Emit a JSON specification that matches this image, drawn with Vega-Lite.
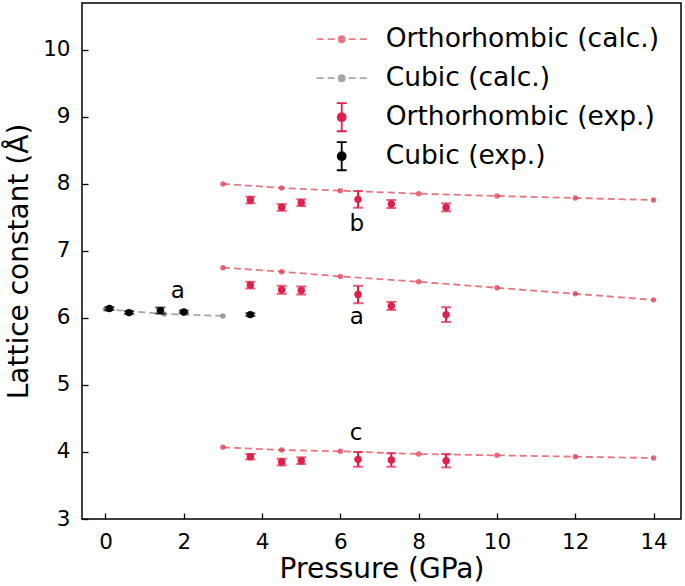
{
  "$schema": "https://vega.github.io/schema/vega-lite/v6.json",
  "width": 599,
  "height": 516,
  "autosize": "none",
  "padding": {"left": 82, "top": 3, "right": 4, "bottom": 67},
  "background": "white",
  "config": {
    "font": "DejaVu Sans",
    "view": {"stroke": "black", "strokeWidth": 1.5},
    "axis": {
      "domain": false,
      "grid": false,
      "tickColor": "black",
      "tickWidth": 1.3,
      "tickSize": -6,
      "labelFontSize": 21.5,
      "labelColor": "black",
      "labelFont": "DejaVu Sans",
      "titleFont": "DejaVu Sans",
      "titleFontSize": 28,
      "titleFontWeight": "normal",
      "titleColor": "black"
    },
    "legend": {
      "orient": "none",
      "legendX": 239.7,
      "legendY": 16.2,
      "padding": 0,
      "rowPadding": 0,
      "symbolSize": 1444,
      "labelOffset": 24,
      "labelFontSize": 26.5,
      "labelFont": "DejaVu Sans",
      "labelColor": "black",
      "labelLimit": 400,
      "symbolStrokeWidth": 1.8,
      "symbolOpacity": 1
    }
  },
  "datasets": {
    "pts": [
      {"series": "Orthorhombic (calc.)", "kind": "calc", "lat": "b", "p": 3, "v": 8.00},
      {"series": "Orthorhombic (calc.)", "kind": "calc", "lat": "b", "p": 4.5, "v": 7.94},
      {"series": "Orthorhombic (calc.)", "kind": "calc", "lat": "b", "p": 6, "v": 7.90},
      {"series": "Orthorhombic (calc.)", "kind": "calc", "lat": "b", "p": 8, "v": 7.855},
      {"series": "Orthorhombic (calc.)", "kind": "calc", "lat": "b", "p": 10, "v": 7.82},
      {"series": "Orthorhombic (calc.)", "kind": "calc", "lat": "b", "p": 12, "v": 7.79},
      {"series": "Orthorhombic (calc.)", "kind": "calc", "lat": "b", "p": 14, "v": 7.76},
      {"series": "Orthorhombic (calc.)", "kind": "calc", "lat": "a", "p": 3, "v": 6.75},
      {"series": "Orthorhombic (calc.)", "kind": "calc", "lat": "a", "p": 4.5, "v": 6.69},
      {"series": "Orthorhombic (calc.)", "kind": "calc", "lat": "a", "p": 6, "v": 6.62},
      {"series": "Orthorhombic (calc.)", "kind": "calc", "lat": "a", "p": 8, "v": 6.54},
      {"series": "Orthorhombic (calc.)", "kind": "calc", "lat": "a", "p": 10, "v": 6.45},
      {"series": "Orthorhombic (calc.)", "kind": "calc", "lat": "a", "p": 12, "v": 6.36},
      {"series": "Orthorhombic (calc.)", "kind": "calc", "lat": "a", "p": 14, "v": 6.27},
      {"series": "Orthorhombic (calc.)", "kind": "calc", "lat": "c", "p": 3, "v": 4.07},
      {"series": "Orthorhombic (calc.)", "kind": "calc", "lat": "c", "p": 4.5, "v": 4.03},
      {"series": "Orthorhombic (calc.)", "kind": "calc", "lat": "c", "p": 6, "v": 4.01},
      {"series": "Orthorhombic (calc.)", "kind": "calc", "lat": "c", "p": 8, "v": 3.97},
      {"series": "Orthorhombic (calc.)", "kind": "calc", "lat": "c", "p": 10, "v": 3.95},
      {"series": "Orthorhombic (calc.)", "kind": "calc", "lat": "c", "p": 12, "v": 3.93},
      {"series": "Orthorhombic (calc.)", "kind": "calc", "lat": "c", "p": 14, "v": 3.91},
      {"series": "Cubic (calc.)", "kind": "calc", "lat": "a", "p": 0, "v": 6.13},
      {"series": "Cubic (calc.)", "kind": "calc", "lat": "a", "p": 1.5, "v": 6.06},
      {"series": "Cubic (calc.)", "kind": "calc", "lat": "a", "p": 3, "v": 6.03},
      {"series": "Orthorhombic (exp.)", "kind": "exp", "lat": "b", "p": 3.7, "v": 7.76, "err": 0.05},
      {"series": "Orthorhombic (exp.)", "kind": "exp", "lat": "b", "p": 4.5, "v": 7.65, "err": 0.05},
      {"series": "Orthorhombic (exp.)", "kind": "exp", "lat": "b", "p": 5.0, "v": 7.72, "err": 0.05},
      {"series": "Orthorhombic (exp.)", "kind": "exp", "lat": "b", "p": 6.45, "v": 7.77, "err": 0.125},
      {"series": "Orthorhombic (exp.)", "kind": "exp", "lat": "b", "p": 7.3, "v": 7.70, "err": 0.06},
      {"series": "Orthorhombic (exp.)", "kind": "exp", "lat": "b", "p": 8.7, "v": 7.65, "err": 0.06},
      {"series": "Orthorhombic (exp.)", "kind": "exp", "lat": "a", "p": 3.7, "v": 6.49, "err": 0.05},
      {"series": "Orthorhombic (exp.)", "kind": "exp", "lat": "a", "p": 4.5, "v": 6.42, "err": 0.06},
      {"series": "Orthorhombic (exp.)", "kind": "exp", "lat": "a", "p": 5.0, "v": 6.41, "err": 0.06},
      {"series": "Orthorhombic (exp.)", "kind": "exp", "lat": "a", "p": 6.45, "v": 6.35, "err": 0.13},
      {"series": "Orthorhombic (exp.)", "kind": "exp", "lat": "a", "p": 7.3, "v": 6.18, "err": 0.06},
      {"series": "Orthorhombic (exp.)", "kind": "exp", "lat": "a", "p": 8.7, "v": 6.05, "err": 0.11},
      {"series": "Orthorhombic (exp.)", "kind": "exp", "lat": "c", "p": 3.7, "v": 3.93, "err": 0.04},
      {"series": "Orthorhombic (exp.)", "kind": "exp", "lat": "c", "p": 4.5, "v": 3.85, "err": 0.05},
      {"series": "Orthorhombic (exp.)", "kind": "exp", "lat": "c", "p": 5.0, "v": 3.87, "err": 0.05},
      {"series": "Orthorhombic (exp.)", "kind": "exp", "lat": "c", "p": 6.45, "v": 3.89, "err": 0.11},
      {"series": "Orthorhombic (exp.)", "kind": "exp", "lat": "c", "p": 7.3, "v": 3.88, "err": 0.1},
      {"series": "Orthorhombic (exp.)", "kind": "exp", "lat": "c", "p": 8.7, "v": 3.87, "err": 0.1},
      {"series": "Cubic (exp.)", "kind": "exp", "lat": "a", "p": 0.1, "v": 6.14, "err": 0.02},
      {"series": "Cubic (exp.)", "kind": "exp", "lat": "a", "p": 0.6, "v": 6.08, "err": 0.02},
      {"series": "Cubic (exp.)", "kind": "exp", "lat": "a", "p": 1.4, "v": 6.11, "err": 0.045},
      {"series": "Cubic (exp.)", "kind": "exp", "lat": "a", "p": 2.0, "v": 6.09, "err": 0.02},
      {"series": "Cubic (exp.)", "kind": "exp", "lat": "a", "p": 3.7, "v": 6.05, "err": 0.02}
    ],
    "labels": [
      {"p": 1.85, "v": 6.40, "text": "a"},
      {"p": 6.42, "v": 7.40, "text": "b"},
      {"p": 6.42, "v": 6.02, "text": "a"},
      {"p": 6.40, "v": 4.29, "text": "c"}
    ]
  },
  "encoding": {
    "x": {
      "field": "p", "type": "quantitative",
      "scale": {"domain": [-0.6, 14.7], "nice": false, "zero": false},
      "axis": {"values": [0, 2, 4, 6, 8, 10, 12, 14], "format": "d", "title": "Pressure (GPa)", "labelPadding": 18, "titlePadding": 3}
    },
    "y": {
      "field": "v", "type": "quantitative",
      "scale": {"domain": [3, 10.7], "nice": false, "zero": false},
      "axis": {"values": [3, 4, 5, 6, 7, 8, 9, 10], "format": "d", "title": "Lattice constant (Å)", "labelPadding": 18, "titlePadding": 9}
    }
  },
  "layer": [
    {
      "data": {"name": "pts"},
      "transform": [{"filter": "datum.series == 'Orthorhombic (calc.)'"}],
      "mark": {"type": "line", "strokeDash": [7, 4], "strokeWidth": 1.8, "opacity": 0.7, "color": "#e03a4f"},
      "encoding": {"detail": {"field": "lat"}}
    },
    {
      "data": {"name": "pts"},
      "transform": [{"filter": "datum.series == 'Cubic (calc.)'"}],
      "mark": {"type": "line", "strokeDash": [7, 4], "strokeWidth": 1.8, "opacity": 0.7, "color": "#808080"},
      "encoding": {}
    },
    {
      "data": {"name": "pts"},
      "transform": [{"filter": "datum.series == 'Orthorhombic (calc.)'"}],
      "mark": {"type": "point", "filled": true, "size": 30, "opacity": 0.75, "color": "#e03a4f"}
    },
    {
      "data": {"name": "pts"},
      "transform": [{"filter": "datum.series == 'Cubic (calc.)'"}],
      "mark": {"type": "point", "filled": true, "size": 30, "opacity": 0.75, "color": "#808080"}
    },
    {
      "data": {"name": "pts"},
      "transform": [{"filter": "datum.series == 'Orthorhombic (exp.)'"}],
      "mark": {"type": "errorbar", "color": "#e0204a", "ticks": {"size": 10, "thickness": 2}, "rule": {"strokeWidth": 2}},
      "encoding": {"yError": {"field": "err"}}
    },
    {
      "data": {"name": "pts"},
      "transform": [{"filter": "datum.series == 'Cubic (exp.)'"}],
      "mark": {"type": "errorbar", "color": "#000000", "ticks": {"size": 10, "thickness": 2}, "rule": {"strokeWidth": 2}},
      "encoding": {"yError": {"field": "err"}}
    },
    {
      "data": {"name": "pts"},
      "transform": [{"filter": "datum.series == 'Orthorhombic (exp.)'"}],
      "mark": {"type": "point", "filled": true, "size": 55, "opacity": 1, "color": "#e0204a"}
    },
    {
      "data": {"name": "pts"},
      "transform": [{"filter": "datum.series == 'Cubic (exp.)'"}],
      "mark": {"type": "point", "filled": true, "size": 55, "opacity": 1, "color": "#000000"}
    },
    {
      "data": {"name": "labels"},
      "mark": {"type": "text", "fontSize": 23, "font": "DejaVu Sans", "color": "black", "align": "center", "baseline": "middle"},
      "encoding": {"text": {"field": "text"}}
    },
    {
      "data": {"name": "pts"},
      "mark": {"type": "point", "opacity": 0, "filled": true, "strokeWidth": 1.8},
      "encoding": {
        "fill": {
          "field": "series", "type": "nominal",
          "scale": {
            "domain": ["Orthorhombic (calc.)", "Cubic (calc.)", "Orthorhombic (exp.)", "Cubic (exp.)"],
            "range": ["#e65a68", "#a0a0a0", "#e0204a", "#000000"]
          },
          "legend": {"title": null}
        },
        "stroke": {
          "field": "series", "type": "nominal",
          "scale": {
            "domain": ["Orthorhombic (calc.)", "Cubic (calc.)", "Orthorhombic (exp.)", "Cubic (exp.)"],
            "range": ["#eb7d88", "#a8a8a8", "#e0204a", "#000000"]
          },
          "legend": {"title": null}
        },
        "shape": {
          "field": "series", "type": "nominal",
          "scale": {
            "domain": ["Orthorhombic (calc.)", "Cubic (calc.)", "Orthorhombic (exp.)", "Cubic (exp.)"],
            "range": [
              "M0,-0.78M0,0.78M-1.32,0H-0.95M-0.74,0H-0.37M-0.16,0H0.16M0.37,0H0.74M0.95,0H1.32M0.16,0A0.16,0.16,0,1,1,-0.16,0A0.16,0.16,0,1,1,0.16,0Z",
              "M0,-0.78M0,0.78M-1.32,0H-0.95M-0.74,0H-0.37M-0.16,0H0.16M0.37,0H0.74M0.95,0H1.32M0.16,0A0.16,0.16,0,1,1,-0.16,0A0.16,0.16,0,1,1,0.16,0Z",
              "M0,-0.78M0,0.78M-0.26,-0.74H0.26M0,-0.74V0.74M-0.26,0.74H0.26M0.21,0A0.21,0.21,0,1,1,-0.21,0A0.21,0.21,0,1,1,0.21,0Z",
              "M0,-0.78M0,0.78M-0.26,-0.74H0.26M0,-0.74V0.74M-0.26,0.74H0.26M0.21,0A0.21,0.21,0,1,1,-0.21,0A0.21,0.21,0,1,1,0.21,0Z"
            ]
          },
          "legend": {"title": null}
        }
      }
    }
  ]
}
